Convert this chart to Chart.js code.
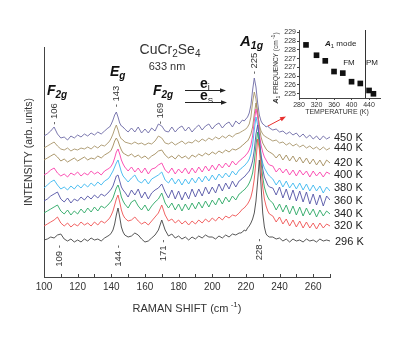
<!DOCTYPE html>
<html>
<head>
<meta charset="utf-8">
<script src="https://cdn.jsdelivr.net/npm/chart.js@4.4.0/dist/chart.umd.min.js"></script>
<style>
  html, body { margin: 0; padding: 0; background: #fff; }
  #wrap { position: relative; width: 409px; height: 338px; }
  #main { position: absolute; left: 0; top: 0; }
  #inset { position: absolute; left: 255px; top: 20px; }
</style>
</head>
<body>
<div id="wrap">
  <canvas id="main" width="409" height="338"></canvas>
  <canvas id="inset" width="150" height="100"></canvas>
</div>
<script>
// Raman shift axis (cm-1), denser around the Eg and A1g lines
const shifts = [100,102,104,106,108,110,112,114,116,118,120,122,124,126,128,130,132,134,136,138,
  139,140,141,142,143,144,145,146,147,148,
  150,152,154,156,158,160,162,164,166,168,170,172,174,176,178,180,182,184,186,188,190,192,194,196,198,200,202,204,206,208,210,212,214,216,
  217,218,219,220,221,222,223,224,225,226,227,228,229,230,231,232,233,234,
  236,238,240,242,244,246,248,250,252,254,256,258,260,262,264,266,268,270];

// stacked spectra (arb. units, already offset as plotted)
const s296 = [37,38,40,39,42,43,38,36,38,35,37,35,38,36,39,37,38,36,39,41,
  42,44,47,53,62,69,60,50,45,42,
  40,41,44,42,38,35,36,39,42,47,57,47,41,43,39,41,38,40,37,40,38,41,39,42,40,40,38,41,39,42,40,43,42,44,
  44,45,47,46,49,51,54,58,64,76,96,117,92,64,50,43,41,40,
  40,38,39,36,38,35,38,36,37,35,38,36,37,35,38,36,37,36];
const s320 = [51,53,55,57,60,54,51,54,50,53,51,55,52,54,51,55,52,56,54,57,
  59,62,66,72,78,82,75,67,62,59,
  56,57,60,56,53,55,52,56,60,64,72,62,56,58,54,57,53,56,52,56,53,57,54,58,55,59,56,60,57,61,59,62,61,64,
  66,68,69,71,73,76,80,87,98,116,138,128,108,90,78,71,66,63,
  61,55,60,53,58,51,57,50,56,49,55,49,54,48,54,49,53,51];
const s340 = [64,66,68,70,72,66,63,67,62,66,63,68,64,69,65,70,66,71,69,72,
  74,76,79,84,89,92,87,80,76,73,
  69,75,77,71,67,72,66,71,75,78,84,74,69,74,67,73,66,73,67,74,68,75,69,76,70,77,72,79,73,80,75,81,77,83,
  84,86,87,89,91,94,98,104,115,132,145,133,115,100,90,84,80,77,
  74,67,73,65,72,63,71,62,70,61,69,62,68,60,67,61,66,63];
const s360 = [76,78,81,83,85,78,75,79,74,78,76,80,77,81,78,82,79,83,81,84,
  86,88,91,96,101,102,96,90,87,85,
  80,87,82,88,79,85,78,84,87,89,93,85,79,87,78,86,77,85,78,88,80,88,81,90,83,90,84,93,86,94,88,96,90,96,
  97,99,100,102,104,106,110,116,127,143,152,140,122,108,100,96,92,90,
  89,82,90,79,88,77,87,76,86,75,85,73,83,72,82,71,81,77];
const s380 = [89,92,95,97,92,88,90,87,91,88,92,89,93,90,94,91,95,92,96,98,
  100,103,106,110,114,117,111,105,101,99,
  95,99,102,96,94,98,93,98,100,102,105,97,94,99,93,98,92,98,93,99,94,100,95,101,96,102,97,103,99,104,100,106,102,107,
  108,110,111,113,115,118,123,132,147,160,152,135,122,114,109,106,103,101,
  98,92,97,90,96,89,94,88,94,87,93,86,92,86,91,84,90,86];
const s400 = [102,104,107,109,104,101,103,100,104,102,105,101,104,102,106,103,105,102,106,108,
  109,111,114,119,125,128,123,117,113,110,
  106,110,105,109,104,109,103,108,109,112,114,107,104,109,103,108,104,109,103,109,104,110,105,111,106,112,107,113,109,114,110,116,112,116,
  117,119,120,122,124,127,132,141,156,168,160,143,132,125,120,117,114,112,
  111,105,109,104,108,102,107,101,107,102,106,100,106,101,105,100,105,103];
const s420 = [117,119,121,123,120,116,118,115,117,119,116,118,120,117,119,118,121,119,122,124,
  125,127,131,136,139,136,131,127,124,123,
  121,123,120,122,119,121,118,121,123,126,127,122,119,121,118,122,119,121,118,122,120,123,121,124,122,125,123,126,124,127,125,128,127,129,
  130,132,133,135,136,139,143,150,163,174,165,150,140,134,131,128,126,125,
  123,119,123,117,122,116,121,115,120,114,119,113,118,112,117,111,117,114];
const s440 = [129,131,133,135,131,128,127,129,126,128,127,129,128,130,128,131,129,132,131,134,
  136,139,143,148,152,147,141,138,137,135,
  134,133,135,133,134,132,134,133,136,141,139,134,133,135,132,134,136,133,135,134,137,135,138,136,139,137,140,138,141,139,142,140,143,144,
  145,146,147,148,150,153,160,175,185,178,163,152,146,143,141,140,139,138,
  136,137,134,135,132,134,131,133,130,132,129,131,128,130,127,130,127,129];
const s450 = [141,143,146,150,143,139,140,137,141,139,142,140,143,141,144,142,145,143,146,149,
  150,153,157,162,165,160,154,151,150,148,
  145,149,145,150,144,148,144,149,146,153,151,146,145,150,145,149,151,146,150,145,149,152,147,151,153,148,152,154,149,153,155,150,156,153,
  155,157,156,158,160,164,172,187,199,190,174,162,156,153,152,150,151,149,
  147,148,145,146,143,145,142,144,140,143,139,142,138,141,137,141,138,140];

const tempLabels = ['296 K','320 K','340 K','360 K','380 K','400 K','420 K','440 K','450 K'];
const spectra = [s296, s320, s340, s360, s380, s400, s420, s440, s450];
const colors = ['#444444','#ef5252','#2ba864','#5454a6','#3cb8ef','#fb3fab','#a38c5c','#a8956b','#6d6aa6'];
const labelY = [241.5, 226, 213.5, 200.5, 188, 174.5, 163, 148, 137.5];

// peak labels: [text, position cm-1, rotated label centre y, top/bottom]
const peakLabels = [['106', 106, 114, 'top'], ['143', 143, 96.5, 'top'], ['169', 169, 113.5, 'top'], ['225', 225, 63.5, 'top'],
  ['109', 109, 256, 'bot'], ['144', 144, 256, 'bot'], ['171', 171, 250.5, 'bot'], ['228', 228, 249.5, 'bot']];

// inset: A1g frequency vs temperature
const insetTemps = [296, 320, 340, 360, 380, 400, 420, 440, 450];
const insetFreq = [228.28, 227.69, 227.37, 226.76, 226.67, 226.18, 226.08, 225.68, 225.49];
const insetXTicks = [280, 320, 360, 400, 440];
const insetYTicks = [225.5, 226, 226.5, 227, 227.5, 228, 228.5, 229];
const insetYLabels = ['225','226','226','227','227','228','228','229'];
const curieT = 430;

const FONT = 'Arial, "Liberation Sans", Helvetica, sans-serif';
function fnt(size, style) { return (style ? style + ' ' : '') + size + 'px ' + FONT; }

// draw text made of pieces (sub/superscripts), optionally rotated
function rich(ctx, parts, x, y, align, rot, color) {
  ctx.save();
  ctx.translate(x, y);
  if (rot) ctx.rotate(rot);
  let w = 0;
  parts.forEach(p => { ctx.font = p[1]; w += ctx.measureText(p[0]).width; });
  let cx = align === 'center' ? -w / 2 : (align === 'right' ? -w : 0);
  ctx.textAlign = 'left';
  ctx.textBaseline = 'alphabetic';
  ctx.fillStyle = color || '#222';
  parts.forEach(p => {
    ctx.font = p[1];
    ctx.fillText(p[0], cx, p[2] || 0);
    cx += ctx.measureText(p[0]).width;
  });
  ctx.restore();
}

function arrow(ctx, x1, y1, x2, y2, color) {
  const a = Math.atan2(y2 - y1, x2 - x1);
  ctx.save();
  ctx.strokeStyle = color; ctx.fillStyle = color; ctx.lineWidth = 1;
  ctx.beginPath(); ctx.moveTo(x1, y1); ctx.lineTo(x2 - 3 * Math.cos(a), y2 - 3 * Math.sin(a)); ctx.stroke();
  ctx.beginPath();
  ctx.moveTo(x2, y2);
  ctx.lineTo(x2 - 6 * Math.cos(a) + 2.2 * Math.sin(a), y2 - 6 * Math.sin(a) - 2.2 * Math.cos(a));
  ctx.lineTo(x2 - 6 * Math.cos(a) - 2.2 * Math.sin(a), y2 - 6 * Math.sin(a) + 2.2 * Math.cos(a));
  ctx.closePath(); ctx.fill();
  ctx.restore();
}

const mainDecor = {
  id: 'mainDecor',
  afterDraw(chart) {
    const ctx = chart.ctx;
    const xs = chart.scales.x;
    const bottom = chart.chartArea.bottom;

    // small inward ticks on the shift axis
    ctx.save();
    ctx.strokeStyle = '#444'; ctx.lineWidth = 1;
    xs.ticks.forEach(t => {
      const px = Math.round(xs.getPixelForValue(t.value)) + 0.5;
      ctx.beginPath(); ctx.moveTo(px, bottom); ctx.lineTo(px, bottom - 3); ctx.stroke();
    });
    ctx.restore();

    // axis titles
    rich(ctx, [['INTENSITY (arb. units)', fnt(10.5)]], 32, 152, 'center', -Math.PI / 2, '#333');
    rich(ctx, [['RAMAN SHIFT (cm', fnt(11)], [' -1', fnt(8), -5], [')', fnt(11)]], 187, 312, 'center', 0, '#333');

    // compound + mode labels
    rich(ctx, [['CuCr', fnt(14)], ['2', fnt(10), 3], ['Se', fnt(14)], ['4', fnt(10), 3]], 170, 54, 'center', 0, '#333');
    rich(ctx, [['633 nm', fnt(11)]], 167, 70, 'center', 0, '#333');
    rich(ctx, [['E', fnt(14, 'italic bold')], ['g', fnt(10, 'italic bold'), 3]], 110, 76, 'left', 0, '#111');
    rich(ctx, [['F', fnt(14, 'italic bold')], ['2g', fnt(10, 'italic bold'), 3]], 47, 95, 'left', 0, '#111');
    rich(ctx, [['F', fnt(14, 'italic bold')], ['2g', fnt(10, 'italic bold'), 3]], 153, 95, 'left', 0, '#111');
    rich(ctx, [['A', fnt(15, 'italic bold')], ['1g', fnt(10.5, 'italic bold'), 3]], 240, 45.5, 'left', 0, '#111');

    // polarisation arrows
    rich(ctx, [['e', fnt(14, 'bold')], ['i', fnt(9), 2.5]], 200, 87.5, 'left', 0, '#111');
    arrow(ctx, 185, 90.5, 226, 90.5, '#222');
    rich(ctx, [['e', fnt(14, 'bold')], ['S', fnt(8), 2.5]], 200, 100, 'left', 0, '#111');
    arrow(ctx, 185, 102.5, 227, 102.5, '#222');

    // peak position labels
    peakLabels.forEach(p => {
      const txt = p[3] === 'top' ? '- ' + p[0] : p[0] + ' -';
      ctx.save();
      ctx.translate(xs.getPixelForValue(p[1]), p[2]);
      ctx.rotate(-Math.PI / 2);
      ctx.font = fnt(9.5);
      ctx.fillStyle = '#333';
      ctx.textAlign = 'center';
      ctx.textBaseline = 'middle';
      ctx.fillText(txt, 0, 0);
      ctx.restore();
    });

    // temperature labels
    ctx.save();
    ctx.font = fnt(11);
    ctx.fillStyle = '#222';
    ctx.textAlign = 'left';
    ctx.textBaseline = 'middle';
    tempLabels.forEach((t, i) => ctx.fillText(t, i === 0 ? 335 : 334, labelY[i]));
    ctx.restore();

    // red pointer to the inset
    arrow(ctx, 268, 126, 286, 116.5, '#e8312f');
  }
};

new Chart(document.getElementById('main'), {
  type: 'line',
  data: {
    datasets: spectra.map((s, i) => ({
      label: tempLabels[i],
      data: shifts.map((x, j) => ({ x: x, y: s[j] })),
      borderColor: colors[i],
      borderWidth: 0.9,
      pointRadius: 0,
      tension: 0,
      fill: false
    }))
  },
  options: {
    responsive: false,
    animation: false,
    layout: { padding: { top: 47, right: 79, left: 0, bottom: 0 } },
    plugins: { legend: { display: false }, tooltip: { enabled: false } },
    scales: {
      x: {
        type: 'linear', min: 100, max: 270,
        grid: { display: false, drawTicks: false },
        border: { display: true, color: '#444', width: 1 },
        ticks: {
          stepSize: 10, autoSkip: false, maxRotation: 0, padding: 4,
          font: { family: FONT, size: 10 }, color: '#333',
          callback: v => (v % 20 === 0 ? v : '')
        },
        afterFit: s => { s.height = 61; }
      },
      y: {
        min: 0, max: 230,
        grid: { display: false, drawTicks: false },
        border: { display: true, color: '#444', width: 1 },
        ticks: { display: false },
        afterFit: s => { s.width = 44; }
      }
    }
  },
  plugins: [mainDecor]
});

const insetDecor = {
  id: 'insetDecor',
  afterDraw(chart) {
    const { ctx, chartArea, scales } = chart;
    const px = Math.round(scales.x.getPixelForValue(curieT)) + 0.5;
    ctx.save();
    ctx.strokeStyle = '#333'; ctx.lineWidth = 1;
    ctx.beginPath(); ctx.moveTo(px, chartArea.top); ctx.lineTo(px, chartArea.bottom); ctx.stroke();
    ctx.restore();
    rich(ctx, [['A', fnt(8, 'italic bold')], ['1', fnt(6), 2], [' mode', fnt(8)]], 70, 25.5, 'left', 0, '#222');
    rich(ctx, [['FM', fnt(8)]], 94, 44.5, 'center', 0, '#222');
    rich(ctx, [['PM', fnt(8)]], 117, 44.5, 'center', 0, '#222');
    rich(ctx, [['TEMPERATURE (K)', fnt(7)]], 82, 93.5, 'center', 0, '#333');
    rich(ctx, [['A', fnt(7, 'italic bold')], ['1', fnt(5), 2], [' FREQUENCY (cm', fnt(6.5)], [' -1', fnt(5), -3], [')', fnt(6.5)]],
      22.5, 48, 'center', -Math.PI / 2, '#333');
  }
};

new Chart(document.getElementById('inset'), {
  type: 'scatter',
  data: {
    datasets: [{
      data: insetTemps.map((t, i) => ({ x: t, y: insetFreq[i] })),
      pointStyle: 'rect',
      pointRadius: 4,
      backgroundColor: '#111',
      borderColor: '#111',
      borderWidth: 0
    }]
  },
  options: {
    responsive: false,
    animation: false,
    layout: { padding: { top: 10, right: 25, left: 0, bottom: 0 } },
    plugins: { legend: { display: false }, tooltip: { enabled: false } },
    scales: {
      x: {
        type: 'linear', min: 280, max: 465,
        afterBuildTicks: s => { s.ticks = insetXTicks.map(v => ({ value: v })); },
        grid: { display: true, drawOnChartArea: false, drawTicks: true, tickLength: 2, color: '#444' },
        border: { display: true, color: '#444', width: 1 },
        ticks: { padding: 1, maxRotation: 0, autoSkip: false, font: { family: FONT, size: 7 }, color: '#333' },
        afterFit: s => { s.height = 22; }
      },
      y: {
        min: 225.25, max: 229.13,
        afterBuildTicks: s => { s.ticks = insetYTicks.map(v => ({ value: v })); },
        grid: { display: true, drawOnChartArea: false, drawTicks: true, tickLength: 2, color: '#444' },
        border: { display: true, color: '#444', width: 1 },
        ticks: { padding: 1, autoSkip: false, font: { family: FONT, size: 7 }, color: '#333',
          callback: (v, i) => insetYLabels[i] },
        afterFit: s => { s.width = 44; }
      }
    }
  },
  plugins: [insetDecor]
});
</script>
</body>
</html>
